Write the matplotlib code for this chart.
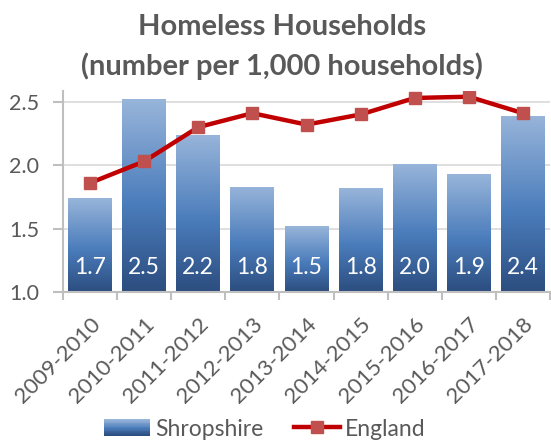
import numpy as np
import matplotlib
matplotlib.use("Agg")
import matplotlib.pyplot as plt
from matplotlib.colors import LinearSegmentedColormap
from matplotlib.lines import Line2D
from matplotlib.patches import Rectangle
from matplotlib.legend_handler import HandlerBase

categories = ["2009-2010", "2010-2011", "2011-2012", "2012-2013", "2013-2014",
              "2014-2015", "2015-2016", "2016-2017", "2017-2018"]
shropshire = [1.74, 2.52, 2.24, 1.83, 1.52, 1.82, 2.01, 1.93, 2.39]
england = [1.86, 2.03, 2.30, 2.41, 2.32, 2.40, 2.53, 2.54, 2.41]
yticks = [1.0, 1.5, 2.0, 2.5]

plt.rcParams['font.family'] = ['Lato', 'DejaVu Sans']
gray = '#595959'

fig = plt.figure(figsize=(5.51, 4.41), dpi=100)
ax = fig.add_axes([63/551, 1 - 292/441, (550-63)/551, (292-91)/441])

x = np.arange(len(categories))
ymin, ymax = 1.0, 2.585

cmap = LinearSegmentedColormap.from_list('g', [(0, '#2c4d7f'), (0.45, '#4a7cbb'), (1, '#98b5da')])
grad = np.linspace(0, 1, 256).reshape(-1, 1)
bars = ax.bar(x, np.array(shropshire) - ymin, bottom=ymin, width=0.81,
              color='none', edgecolor='none', zorder=2)
for b, v in zip(bars, shropshire):
    x0 = b.get_x()
    w = b.get_width()
    im = ax.imshow(grad, extent=[x0, x0 + w, ymin, v], origin='lower',
                   cmap=cmap, aspect='auto', zorder=2)
    clip = Rectangle((x0, ymin), w, v - ymin, transform=ax.transData)
    im.set_clip_path(clip)
    ax.text(x0 + w / 2, 1.19, f"{v:.1f}", color='white', ha='center', va='center',
            fontsize=16.5, zorder=4)
ax.set_xlim(-0.5, len(categories) - 0.5)
ax.set_ylim(ymin, ymax)

line_kw = dict(color='#c00000', lw=3.2, marker='s', markersize=8.5,
               markerfacecolor='#c0504d', markeredgecolor='#c0504d')
ax.plot(x, england, zorder=5, **line_kw)

ax.set_yticks(yticks)
ax.set_yticklabels([f"{t:.1f}" for t in yticks])
ax.yaxis.grid(True, color='#d9d9d9', lw=1.2, zorder=0)
ax.set_axisbelow(True)
ax.set_xticks(x)
ax.set_xticklabels(categories, rotation=45, ha='right', rotation_mode='anchor')
ax.set_xticks(np.arange(len(categories) + 1) - 0.5, minor=True)
ax.tick_params(axis='x', which='major', length=0, labelsize=16, labelcolor=gray, pad=16)
ax.tick_params(axis='x', which='minor', length=6, color='#bfbfbf', width=1.5)
ax.tick_params(axis='y', labelsize=15.5, labelcolor=gray, length=7, color='#bfbfbf',
               width=1.5, pad=10)
for s in ['top', 'right']:
    ax.spines[s].set_visible(False)
ax.spines['left'].set_color('#bfbfbf')
ax.spines['left'].set_linewidth(1.5)
ax.spines['bottom'].set_color('#bfbfbf')
ax.spines['bottom'].set_linewidth(1.5)

fig.text(282/551, 1 - 27/441, "Homeless Households", ha='center', va='center',
         fontsize=21, fontweight='bold', color=gray)
fig.text(282/551, 1 - 66/441, "(number per 1,000 households)", ha='center', va='center',
         fontsize=21, fontweight='bold', color=gray)


class GradientHandler(HandlerBase):
    def create_artists(self, legend, orig_handle, xdescent, ydescent, width, height,
                       fontsize, trans):
        n = 20
        arts = []
        for i in range(n):
            c = cmap(i / (n - 1))
            r = Rectangle((0, i * height / n), width, height / n + 0.3,
                          facecolor=c, edgecolor='none', transform=trans)
            arts.append(r)
        return arts


handles = [Rectangle((0, 0), 1, 1, facecolor='#4a7cbb'), Line2D([], [], **line_kw)]
fig.legend(handles, ['Shropshire', 'England'], loc='center', ncol=2,
           bbox_to_anchor=(265/551, 1 - 429/441), frameon=False, fontsize=16.5,
           labelcolor=gray, handlelength=2.0, handletextpad=0.25, columnspacing=1.3,
           handler_map={Rectangle: GradientHandler()})

fig.savefig('out.png', dpi=100)
